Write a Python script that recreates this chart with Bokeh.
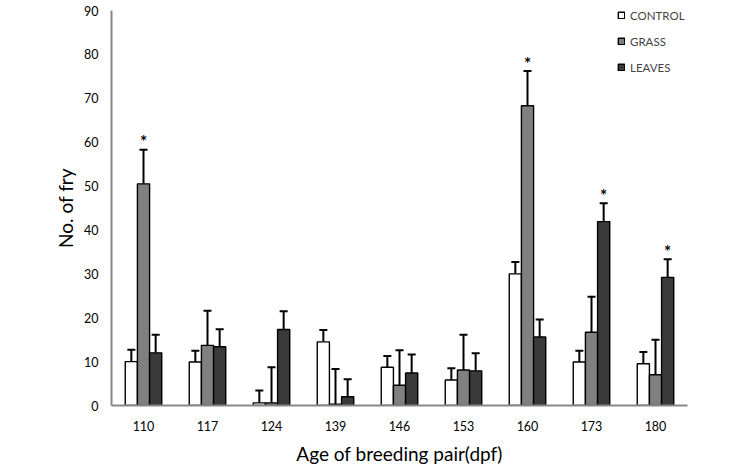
from bokeh.plotting import figure
from bokeh.models import ColumnDataSource, FactorRange, Whisker, TeeHead, Legend, LegendItem, Range1d, FixedTicker
from bokeh.transform import dodge
from bokeh.core.properties import value
from bokeh.embed import file_html
from bokeh.resources import INLINE

ages = ["110", "117", "124", "139", "146", "153", "160", "173", "180"]
series = ["CONTROL", "GRASS", "LEAVES"]
control = [10.0, 9.9, 0.6, 14.5, 8.7, 5.8, 30.0, 9.9, 9.5]
control_err = [2.7, 2.6, 2.8, 2.7, 2.6, 2.7, 2.7, 2.6, 2.7]
grass = [50.5, 13.7, 0.6, 0.3, 4.6, 8.1, 68.3, 16.7, 7.0]
grass_err = [7.8, 7.9, 8.1, 8.0, 8.0, 8.0, 7.9, 8.1, 8.0]
leaves = [12.0, 13.4, 17.3, 2.0, 7.4, 7.9, 15.6, 41.9, 29.2]
leaves_err = [4.1, 4.0, 4.2, 4.0, 4.2, 4.0, 4.0, 4.2, 4.1]
control_sig = ["", "", "", "", "", "", "", "", ""]
grass_sig = ["*", "", "", "", "", "", "*", "", ""]
leaves_sig = ["", "", "", "", "", "", "", "*", "*"]
y_ticks = [0, 10, 20, 30, 40, 50, 60, 70, 80, 90]

FONT = "Lato"

p = figure(width=745, height=467, output_backend="svg", toolbar_location=None,
           x_range=FactorRange(factors=ages, range_padding=0), y_range=Range1d(0, 90),
           min_border_left=111, min_border_right=58, min_border_top=10, min_border_bottom=62)
p.x_range.range_padding = 0
p.grid.visible = False
p.outline_line_color = None
p.background_fill_color = "white"

colors = ["#ffffff", "#808080", "#3a3a3a"]
vals = [control, grass, leaves]
errs = [control_err, grass_err, leaves_err]
sigs = [control_sig, grass_sig, leaves_sig]
offsets = [-0.19, 0.0, 0.19]

items = []
for name, col, v, e, s, off in zip(series, colors, vals, errs, sigs, offsets):
    src = ColumnDataSource(dict(age=ages, val=v, up=[a + b for a, b in zip(v, e)], sig=s))
    r = p.vbar(x=dodge("age", off, range=p.x_range), top="val", width=0.19, source=src,
               fill_color=col, line_color="black", line_width=1.4)
    items.append(LegendItem(label=name, renderers=[r]))
    w = Whisker(base=dodge("age", off, range=p.x_range), lower="val", upper="up", source=src,
                line_color="black", line_width=2, lower_head=None,
                upper_head=TeeHead(size=8, line_width=2, line_color="black"))
    p.add_layout(w)
    p.text(x=dodge("age", off, range=p.x_range), y="up", text="sig", source=src,
           text_font=value(FONT), text_font_size="17px", text_font_style="bold",
           text_align="center", text_baseline="alphabetic", y_offset=-8, text_color="black")

legend = Legend(items=items, location=(506, 330), orientation="vertical",
                glyph_width=8, glyph_height=8, label_height=16, spacing=10,
                label_standoff=5, padding=0, margin=0, border_line_color=None,
                background_fill_alpha=0, label_text_font=FONT, label_text_font_size="11.5px")
p.add_layout(legend, "center")

for ax in (p.xaxis, p.yaxis):
    ax.axis_line_color = "#888888"
    ax.axis_line_width = 2
    ax.major_tick_line_color = None
    ax.minor_tick_line_color = None
    ax.major_tick_out = 0
    ax.major_tick_in = 0
    ax.minor_tick_out = 0
    ax.minor_tick_in = 0
    ax.major_label_text_font = FONT
    ax.major_label_text_font_size = "12.5px"
    ax.major_label_text_color = "black"
    ax.axis_label_text_font = FONT
    ax.axis_label_text_font_style = "normal"
    ax.axis_label_text_color = "black"
    ax.axis_label_text_font_size = "19px"

p.yaxis.ticker = FixedTicker(ticks=y_ticks)
p.yaxis.major_label_standoff = 13
p.yaxis.axis_label = "No. of fry"
p.yaxis.axis_label_standoff = 4
p.xaxis.major_label_standoff = 15
p.xaxis.axis_label = "Age of breeding pair(dpf)"
p.xaxis.axis_label_standoff = 8

open("out.html", "w").write(file_html(p, INLINE))
